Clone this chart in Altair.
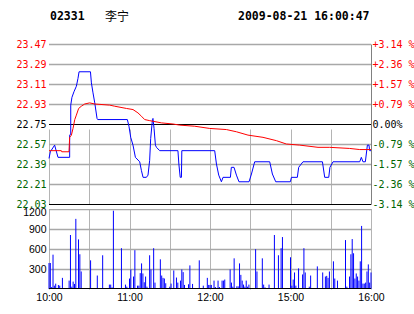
import altair as alt
import pandas as pd

# ---------------- data ----------------
title_parts = ["02331", "李宁", "2009-08-21 16:00:47"]

# trading minutes since 10:00 (10:00-12:30, 14:30-16:00 => 0..240)
blue_t = [0, 1.0, 4.2, 6.7, 15.4, 15.4, 16.2, 16.2, 17.1, 18.6, 20.4, 21.6, 22.4, 30.9, 31.6,
          32.8, 34.1, 35.8, 36.3, 58.4, 59.6, 60.9, 62.6, 64.4, 67.6, 68.9, 70.1, 72.6, 73.8,
          75.0, 75.8, 77.1, 77.5, 78.3, 79.3, 80.1, 82.5, 96.1, 96.8, 97.8, 98.7, 99.0, 123.5,
          124.8, 126.5, 128.5, 129.7, 135.2, 135.9, 137.9, 139.7, 141.6, 149.1, 150.9, 153.3,
          164.5, 166.5, 169.0, 179.9, 180.7, 185.1, 186.1, 189.3, 203.8, 205.5, 208.5, 209.4,
          211.7, 231.6, 232.8, 234.0, 235.8, 237.3, 238.5, 239.0, 240]
blue_p = [22.44, 22.50, 22.56, 22.45, 22.45, 22.65, 22.66, 22.92, 22.99, 23.04, 23.09, 23.16,
          23.22, 23.22, 23.12, 23.03, 22.94, 22.80, 22.79, 22.79, 22.73, 22.63, 22.56, 22.45,
          22.41, 22.33, 22.27, 22.27, 22.29, 22.42, 22.62, 22.79, 22.80, 22.71, 22.56, 22.54,
          22.51, 22.51, 22.39, 22.27, 22.27, 22.51, 22.51, 22.39, 22.29, 22.23, 22.27, 22.27,
          22.36, 22.36, 22.29, 22.23, 22.23, 22.30, 22.41, 22.41, 22.30, 22.23, 22.23, 22.27,
          22.27, 22.36, 22.41, 22.41, 22.27, 22.27, 22.36, 22.41, 22.41, 22.45, 22.41, 22.41,
          22.56, 22.56, 22.51, 22.51]

red_t = [0, 9.2, 9.5, 14.9, 15.4, 16.7, 17.9, 19.2, 20.4, 22.1, 24.1, 26.6, 30.3, 34.1, 45.2,
         49.0, 57.7, 62.6, 66.3, 68.9, 71.3, 75.1, 83.8, 92.4, 97.4, 108.6, 119.8, 132.2, 139.7,
         148.3, 159.5, 169.5, 176.9, 186.9, 200.5, 209.2, 224.1, 231.6, 240]
red_p = [22.51, 22.51, 22.50, 22.50, 22.63, 22.65, 22.71, 22.79, 22.83, 22.89, 22.91, 22.93,
         22.94, 22.93, 22.92, 22.91, 22.89, 22.88, 22.85, 22.82, 22.79, 22.78, 22.76, 22.75,
         22.74, 22.73, 22.71, 22.70, 22.68, 22.65, 22.63, 22.60, 22.57, 22.56, 22.54, 22.54,
         22.53, 22.52, 22.52]

vol_t = [0, 1, 2, 3, 4, 5, 7, 8, 10, 15, 16, 17, 18, 19, 20, 22, 23, 24, 31, 36, 40, 45, 46,
         47, 48, 54, 57, 58, 60, 61, 63, 64, 66, 67, 68, 69, 70, 71, 72, 73, 75, 76, 78, 79,
         83, 84, 85, 86, 87, 90, 91, 93, 95, 96, 98, 99, 100, 101, 104, 105, 107, 112, 115,
         118, 119, 120, 121, 123, 124, 126, 127, 129, 130, 131, 135, 136, 137, 138, 140, 141,
         142, 143, 144, 145, 146, 147, 148, 149, 154, 155, 159, 160, 161, 164, 168, 171, 173,
         174, 180, 181, 182, 183, 184, 186, 189, 190, 191, 194, 195, 200, 204, 206, 207, 208,
         209, 212, 213, 215, 221, 222, 224, 225, 226, 227, 228, 229, 230, 231, 232, 233, 234,
         235, 236, 237, 238, 239, 240]
vol_v = [390, 390, 30, 515, 50, 80, 60, 50, 167, 126, 810, 35, 111, 76, 1052, 744, 521, 263,
         430, 202, 506, 66, 66, 25, 1174, 612, 66, 35, 157, 293, 187, 582, 50, 50, 238, 384,
         233, 101, 187, 35, 506, 293, 612, 96, 445, 202, 167, 157, 86, 35, 81, 278, 172, 96,
         126, 293, 253, 61, 71, 354, 76, 430, 50, 167, 61, 61, 61, 126, 30, 126, 30, 126, 126,
         142, 293, 96, 35, 460, 40, 40, 384, 212, 126, 66, 35, 126, 35, 66, 597, 263, 460, 66,
         25, 66, 810, 506, 612, 779, 476, 50, 142, 248, 50, 309, 218, 612, 248, 35, 202, 339,
         248, 187, 197, 167, 263, 415, 157, 126, 734, 35, 187, 521, 749, 536, 157, 233, 187,
         126, 415, 946, 81, 81, 96, 263, 369, 96, 248]

price_ticks = [22.03, 22.21, 22.39, 22.57, 22.75, 22.93, 23.11, 23.29, 23.47]
pct_labels = ["-3.14 %", "-2.36 %", "-1.57 %", "-0.79 %", "\u00a00.00%",
              "+0.79 %", "+1.57 %", "+2.36 %", "+3.14 %"]
prev_close = 22.75
black_price_lines = [22.03, 22.75]
time_ticks = [0, 30, 60, 90, 120, 150, 180, 210, 240]
time_labels = {0: "10:00", 60: "11:00", 120: "12:00", 180: "15:00", 240: "16:00"}
vol_ticks = [0, 300, 600, 900, 1200]

RED = "#ff0000"
GREEN = "#006400"
GRID = "#b4b4b4"
HGRID = "#a8a8a8"
MONO = "DejaVu Sans Mono"
SANS = "Liberation Sans"

# ---------------- build ----------------
blue_df = pd.DataFrame({"t": blue_t, "p": blue_p, "i": list(range(len(blue_t)))})
red_df = pd.DataFrame({"t": red_t, "p": red_p, "i": list(range(len(red_t)))})
vol_df = pd.DataFrame({"t": vol_t, "v": vol_v})
black_df = pd.DataFrame({"p": black_price_lines})
gray_df = pd.DataFrame({"p": [v for v in price_ticks if v not in black_price_lines]})
vol_gray_df = pd.DataFrame({"v": [v for v in vol_ticks if v != 0]})
zero_df = pd.DataFrame({"v": [0]})

time_expr = " : ".join(
    f"datum.value == {k} ? '{v}'" for k, v in time_labels.items()) + " : ''"
x_enc = alt.X(
    "t:Q",
    scale=alt.Scale(domain=[0, 240], nice=False, zero=False),
    axis=alt.Axis(values=time_ticks, labelExpr=time_expr, title=None, grid=True,
                  gridColor=GRID, gridOpacity=1, domain=False, ticks=False, tickSize=0,
                  labelPadding=3, labelFont=SANS, labelFontSize=10.5, labelColor="black",
                  labelOverlap=False, labelFlush=False),
)

price_scale = alt.Scale(domain=[price_ticks[0], price_ticks[-1]], range=[160, 0],
                        nice=False, zero=False)
label_color = {"condition": [
    {"test": f"datum.value > {prev_close} + 0.001", "value": RED},
    {"test": f"abs(datum.value - {prev_close}) < 0.001", "value": "black"}],
    "value": GREEN}

left_axis = alt.Axis(
    values=price_ticks, format=".2f", title=None, orient="left",
    domain=False, ticks=False, tickSize=0, labelPadding=3,
    labelFont=MONO, labelFontSize=10, labelFlush=False, labelOverlap=False,
    labelColor=label_color, grid=False,
)

pct_expr = " : ".join(
    f"abs(datum.value - {v}) < 0.001 ? '{s}'" for v, s in zip(price_ticks, pct_labels)) + " : ''"
right_axis = alt.Axis(
    values=price_ticks, labelExpr=pct_expr, title=None, orient="right",
    domain=True, domainColor="#808080", ticks=False, tickSize=0, labelPadding=1,
    labelFont=MONO, labelFontSize=10, labelFlush=False, labelOverlap=False,
    labelColor=label_color, grid=False,
)

vol_scale = alt.Scale(domain=[0, 1200], range=[245, 165], nice=False)
vol_axis = alt.Axis(
    values=vol_ticks, labelExpr="datum.value == 0 ? '' : format(datum.value, 'd')",
    title=None, orient="left", domain=False, ticks=False, tickSize=0, labelPadding=3,
    labelFont=SANS, labelFontSize=10.5, labelColor="black", labelFlush=True,
    labelFlushOffset=2, labelOverlap=False, grid=False,
)

gray_rules = alt.Chart(gray_df).mark_rule(
    color=HGRID, strokeWidth=1.5, yOffset=0.5, opacity=1, strokeOpacity=1).encode(
    x=alt.value(0), x2=alt.value(322),
    y=alt.Y("p:Q", scale=price_scale, axis=left_axis))
black_rules = alt.Chart(black_df).mark_rule(color="black", strokeWidth=1, yOffset=0.5).encode(
    y=alt.Y("p:Q", scale=price_scale, axis=left_axis))
blue_line = alt.Chart(blue_df).mark_line(color="#0000ff", strokeWidth=1).encode(
    x=x_enc, y=alt.Y("p:Q", scale=price_scale, axis=left_axis), order="i:Q")
price_panel = alt.layer(gray_rules, black_rules, blue_line)

red = alt.Chart(red_df).mark_line(color=RED, strokeWidth=1).encode(
    x=x_enc, y=alt.Y("p:Q", scale=price_scale, axis=right_axis), order="i:Q")

vol_gray = alt.Chart(vol_gray_df).mark_rule(
    color=HGRID, strokeWidth=1.5, yOffset=0.5, opacity=1, strokeOpacity=1).encode(
    x=alt.value(0), x2=alt.value(322),
    y=alt.Y("v:Q", scale=vol_scale, axis=vol_axis))
vol_base = alt.Chart(zero_df).mark_rule(color="black", strokeWidth=1, yOffset=-0.5).encode(
    y=alt.Y("v:Q", scale=vol_scale, axis=vol_axis))
vol_bars = alt.Chart(vol_df).mark_rule(color="#0000ff", strokeWidth=1).encode(
    x=x_enc, y=alt.Y("v:Q", scale=vol_scale, axis=vol_axis), y2=alt.datum(0))
vol_panel = alt.layer(vol_gray, vol_bars, vol_base)

one = pd.DataFrame({"k": [0]})
gap = alt.Chart(one).mark_rect(color="white").encode(
    x=alt.value(0), x2=alt.value(323), y=alt.value(161), y2=alt.value(165))


def title_text(s, xpos, bold=True, font=MONO, size=11.5):
    return alt.Chart(pd.DataFrame({"s": [s]})).mark_text(
        align="left", baseline="middle", font=font, fontSize=size,
        fontWeight="bold" if bold else "normal", color="black").encode(
        x=alt.value(xpos), y=alt.value(-27), text="s:N")


t1 = title_text(title_parts[0], 1)
t2 = title_text(title_parts[1], 56, bold=False, font="Noto Sans CJK SC", size=12)
t3 = title_text(title_parts[2], 189)

chart = alt.layer(price_panel, red, vol_panel, gap, t1, t2, t3).resolve_scale(
    y="independent"
).properties(
    width=322, height=245,
    autosize=alt.AutoSizeParams(type="none"),
    padding={"left": 49, "top": 44, "right": 43, "bottom": 25},
).configure_view(stroke=None)

chart.save("out.html", embed_options={"renderer": "svg", "actions": False})
